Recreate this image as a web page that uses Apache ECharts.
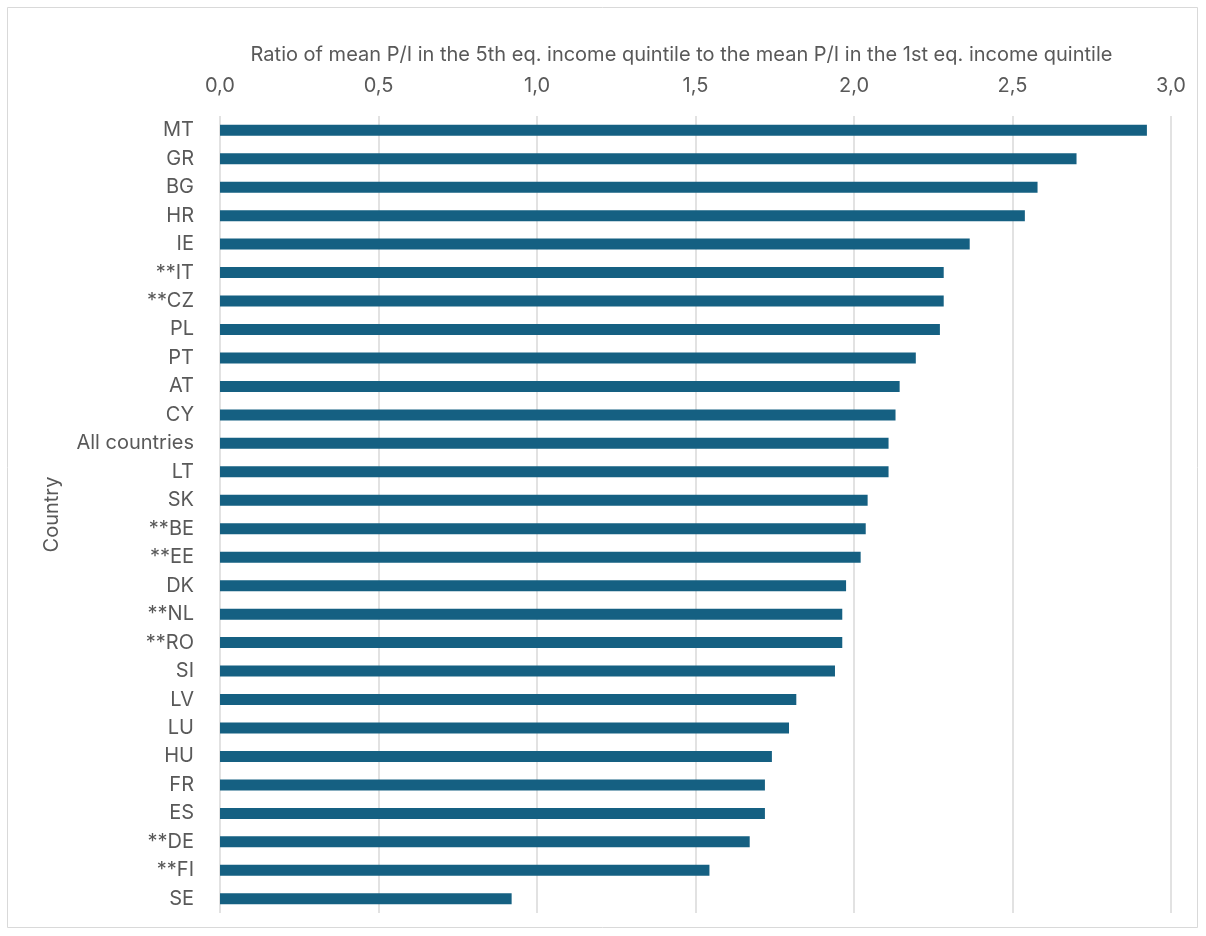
<!DOCTYPE html>
<html>
<head>
<meta charset="utf-8">
<script src="https://cdn.jsdelivr.net/npm/echarts@6/dist/echarts.min.js"></script>
<style>
  html, body { margin: 0; padding: 0; background: #ffffff; }
  #chart { width: 1206px; height: 936px; }
</style>
</head>
<body>
<div id="chart"></div>
<script>
// Countries, top to bottom
const countries = ['MT', 'GR', 'BG', 'HR', 'IE', '**IT', '**CZ', 'PL', 'PT', 'AT', 'CY',
  'All countries', 'LT', 'SK', '**BE', '**EE', 'DK', '**NL', '**RO', 'SI', 'LV', 'LU',
  'HU', 'FR', 'ES', '**DE', '**FI', 'SE'];

// Ratio of mean P/I, 5th vs 1st equivalised income quintile
const ratios = [2.924, 2.702, 2.579, 2.539, 2.365, 2.283, 2.283, 2.271, 2.195, 2.144, 2.131,
  2.109, 2.109, 2.043, 2.037, 2.021, 1.975, 1.963, 1.963, 1.940, 1.818, 1.795,
  1.741, 1.719, 1.719, 1.671, 1.544, 0.920];

const xTicks = { min: 0, max: 3, step: 0.5 };

const xTitle = 'Ratio of mean P/I in the 5th eq. income quintile to the mean P/I in the 1st eq. income quintile';
const yTitle = 'Country';

const textColor = '#595959';
const fontFamily = 'Inter, "Noto Sans", sans-serif';
const fontSize = 20;

const chart = echarts.init(document.getElementById('chart'));
chart.setOption({
  animation: false,
  backgroundColor: '#ffffff',
  graphic: [{
    type: 'rect',
    shape: { x: 7.5, y: 7.5, width: 1190, height: 920 },
    style: { fill: 'none', stroke: '#d9d9d9', lineWidth: 1 },
    silent: true
  }],
  grid: { left: 220, right: 35, top: 116, bottom: 23, containLabel: false },
  xAxis: {
    type: 'value',
    position: 'top',
    min: xTicks.min,
    max: xTicks.max,
    interval: xTicks.step,
    name: xTitle,
    nameLocation: 'middle',
    nameGap: 51,
    nameTextStyle: {
      color: textColor, fontSize: fontSize, fontFamily: fontFamily,
      padding: [0, 28, 0, 0]
    },
    axisLine: { show: false },
    axisTick: { show: false },
    axisLabel: {
      color: textColor, fontSize: fontSize, fontFamily: fontFamily, margin: 20,
      formatter: v => v.toFixed(1).replace('.', ',')
    },
    splitLine: { show: true, lineStyle: { color: '#d9d9d9', width: 1.5 } }
  },
  yAxis: {
    type: 'category',
    data: countries,
    inverse: true,
    name: yTitle,
    nameLocation: 'middle',
    nameRotate: 90,
    nameGap: 158,
    nameTextStyle: { color: textColor, fontSize: fontSize, fontFamily: fontFamily },
    axisLine: { show: false },
    axisTick: { show: false },
    axisLabel: { color: textColor, fontSize: fontSize, fontFamily: fontFamily, margin: 26, interval: 0 },
    splitLine: { show: false }
  },
  series: [{
    type: 'bar',
    data: ratios,
    barWidth: 11,
    itemStyle: { color: '#156082' },
    silent: true
  }]
});
</script>
</body>
</html>
